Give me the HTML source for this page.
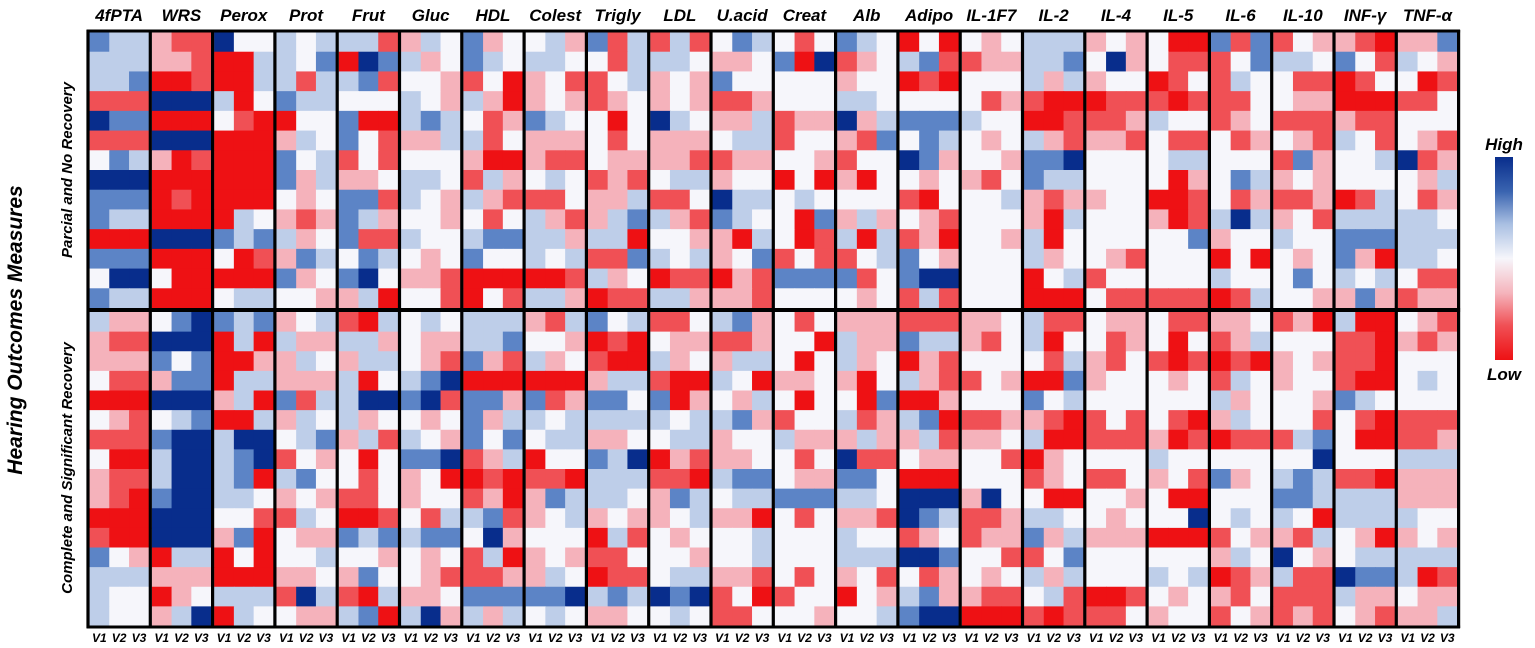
<!DOCTYPE html>
<html><head><meta charset="utf-8"><style>
html,body{margin:0;padding:0;background:#fff;}
svg{display:block;}
text{font-family:"Liberation Sans",sans-serif;font-weight:bold;font-style:italic;fill:#000;}
</style></head>
<body>
<svg id="chart" width="1535" height="648" viewBox="0 0 1535 648" xmlns="http://www.w3.org/2000/svg">
<defs>
<linearGradient id="cbar" x1="0" y1="0" x2="0" y2="1">
<stop offset="0" stop-color="#082d8c"/><stop offset="0.17" stop-color="#3a64b0"/><stop offset="0.33" stop-color="#a9bfe2"/><stop offset="0.5" stop-color="#f6f6fb"/><stop offset="0.67" stop-color="#f5b4bc"/><stop offset="0.83" stop-color="#f05055"/><stop offset="1" stop-color="#ee1114"/>
</linearGradient>
</defs>
<g id="cells"></g>
<g id="grid"></g>
<g id="labels"></g>
<text x="22" y="330" font-size="21" text-anchor="middle" transform="rotate(-90 22 330)">Hearing Outcomes Measures</text>
<text x="72" y="170" font-size="15" text-anchor="middle" transform="rotate(-90 72 170)">Parcial and No Recovery</text>
<text x="72" y="468" font-size="15" text-anchor="middle" transform="rotate(-90 72 468)">Complete and Significant Recovery</text>
<g>
<text x="1504" y="150" font-size="17" text-anchor="middle">High</text>
<rect x="1495" y="157" width="18" height="203" fill="url(#cbar)"/>
<text x="1504" y="380" font-size="17" text-anchor="middle">Low</text>
</g>
</svg>
<script>
const categories = ["4fPTA","WRS","Perox","Prot","Frut","Gluc","HDL","Colest","Trigly","LDL","U.acid","Creat","Alb","Adipo","IL-1F7","IL-2","IL-4","IL-5","IL-6","IL-10","INF-γ","TNF-α"];
const visits = ["V1","V2","V3"];
const topRows = 14;
const bottomRows = 16;
// values: -3 (low, red) .. 3 (high, blue); 30 rows (14 top + 16 bottom), V1..V3
const v_4fPTA=[[2,1,1],[1,1,1],[1,1,2],[-2,-2,-2],[3,2,2],[-2,-2,-2],[0,2,1],[3,3,3],[2,2,2],[2,1,1],[-3,-3,-3],[2,2,2],[0,3,3],[2,1,1],
[1,-1,-1],[-1,-2,-2],[-1,-1,-1],[0,-2,-2],[-3,-3,-3],[0,-1,-2],[-2,-2,-2],[0,-3,-3],[-1,-2,-2],[-1,-2,-3],[-3,-3,-3],[-2,-3,-3],[2,0,-1],[1,1,1],[1,0,0],[1,0,0]];
const v_WRS=[[-1,-2,-2],[-1,-1,-2],[-3,-3,-2],[3,3,3],[-3,-3,-3],[3,3,3],[-1,-3,-2],[-3,-3,-3],[-3,-2,-3],[-3,-3,-3],[3,3,3],[-3,-3,-3],[0,-3,-3],[-3,-3,-3],
[0,2,3],[3,3,3],[2,0,2],[-1,2,2],[3,3,3],[0,1,2],[2,3,3],[1,3,3],[1,3,3],[2,3,3],[3,3,3],[3,3,3],[-3,1,1],[-1,-1,-1],[-3,-1,0],[-1,1,3]];
const v_Perox=[[3,0,0],[-3,-3,1],[-3,-3,1],[1,-3,0],[0,-2,-3],[-3,-3,-3],[-3,-3,-3],[-3,-3,-3],[-3,-3,-3],[-3,1,0],[2,1,2],[0,-3,-2],[-3,-3,-3],[0,1,1],
[2,1,2],[-3,1,-3],[-3,-3,-1],[-3,1,1],[-1,1,-3],[-3,-3,1],[1,3,3],[1,2,3],[1,2,-3],[1,1,0],[0,0,-2],[-1,2,-3],[-3,0,-3],[-3,-3,-3],[1,1,1],[-3,1,0]];
const v_Prot=[[1,0,1],[1,0,2],[1,-2,1],[2,1,1],[-3,0,0],[-1,1,0],[2,0,1],[2,-1,1],[0,-1,0],[-1,-2,-1],[1,-1,0],[-1,2,1],[2,-1,0],[0,0,-1],
[-1,0,1],[1,-1,-1],[-1,1,0],[-1,-1,-1],[2,-2,1],[-1,1,0],[0,1,2],[-2,0,-1],[1,2,0],[-1,0,-1],[-2,1,0],[0,-1,-1],[0,0,1],[-1,-1,0],[-2,3,1],[0,-1,-1]];
const v_Frut=[[1,1,-2],[-3,3,2],[1,2,-2],[0,0,0],[2,-3,-3],[2,0,-2],[-2,0,-2],[-1,-1,0],[2,2,-2],[2,1,-1],[2,-2,-2],[0,2,1],[2,3,0],[-1,1,-3],
[-2,-3,1],[1,1,-1],[-1,1,1],[1,-3,0],[1,3,3],[1,-1,0],[-1,1,-2],[0,-3,0],[0,-2,0],[-2,-2,0],[-3,-3,-2],[2,1,2],[0,0,-1],[-1,2,0],[-2,-3,1],[1,2,-3]];
const v_Gluc=[[-1,1,0],[1,-1,0],[0,0,-1],[1,0,-1],[1,2,1],[-1,-1,1],[0,0,0],[1,1,0],[1,0,-1],[0,0,-1],[1,0,0],[0,-1,0],[-1,-1,-2],[0,0,-2],
[0,1,0],[0,-1,-1],[0,-1,-2],[1,2,3],[2,3,-2],[0,-1,0],[1,0,-1],[2,2,3],[-1,0,-3],[-1,0,0],[0,-2,1],[1,2,2],[0,-1,0],[0,-1,-2],[-1,-1,0],[1,3,-1]];
const v_HDL=[[2,-1,0],[2,1,0],[-2,0,-3],[1,-1,-3],[0,-2,-1],[1,-2,0],[-1,-3,-3],[-2,1,-1],[1,-1,-2],[0,-2,0],[1,2,2],[2,0,0],[-3,-3,-3],[-3,0,-2],
[1,1,1],[1,1,2],[2,-1,-2],[-3,-3,-3],[2,2,-1],[2,-1,1],[2,0,2],[-2,-1,1],[-3,-2,-3],[-2,-1,-3],[1,2,-2],[0,3,-1],[-2,1,-3],[-2,-2,-1],[2,2,2],[1,-1,1]];
const v_Colest=[[0,1,-1],[1,1,0],[-1,0,-2],[-1,0,-1],[2,1,0],[-1,-1,-1],[-1,-2,-2],[0,1,0],[-2,-2,0],[1,-1,-2],[1,1,-1],[1,0,1],[-3,-3,-2],[1,1,-1],
[-1,-2,1],[0,0,-1],[1,-1,0],[-3,-3,-3],[2,-2,-1],[1,0,1],[0,1,1],[-3,0,0],[-2,-2,-3],[-1,2,1],[-1,0,1],[0,0,0],[-1,0,-1],[-1,1,0],[2,2,3],[0,1,0]];
const v_Trigly=[[2,-2,1],[0,-2,1],[-2,0,1],[-2,-1,0],[0,-3,0],[0,-2,0],[0,-1,-1],[-2,-1,-2],[-1,-1,1],[-1,1,2],[1,1,-3],[-2,-2,2],[1,-1,0],[-3,-2,-2],
[2,0,1],[-3,-2,-3],[-2,-3,-3],[-1,1,1],[2,2,0],[1,1,1],[-1,-1,0],[2,1,3],[1,1,1],[1,1,0],[-1,0,-1],[-3,1,-2],[-2,-2,0],[-3,-2,-2],[1,2,1],[-1,-1,0]];
const v_LDL=[[-2,1,-2],[1,1,0],[-1,0,-1],[-1,0,-1],[3,1,0],[-1,-1,-1],[-1,-1,-2],[0,1,1],[-2,-2,0],[1,-1,-2],[0,0,-1],[1,0,1],[-3,-2,-2],[1,1,-1],
[-2,-2,0],[0,-1,-1],[1,-1,0],[-2,-3,-3],[2,-3,-1],[1,0,1],[0,1,1],[-3,-1,-2],[-2,-2,-3],[-1,2,1],[-1,0,1],[0,-1,0],[0,0,-1],[0,1,1],[3,2,3],[0,1,0]];
const v_Uacid=[[0,2,1],[-1,-1,0],[2,0,0],[-2,-2,-1],[-1,-1,1],[0,1,1],[-2,-1,-1],[-1,0,0],[3,1,1],[2,1,0],[-1,-3,1],[-1,0,2],[-3,-1,-2],[-1,-1,-2],
[1,2,-1],[-2,-2,-1],[-1,1,1],[1,0,-3],[0,-1,1],[1,2,-1],[-1,0,0],[-1,-1,0],[1,2,2],[0,1,1],[-1,-1,-3],[0,0,1],[0,0,1],[-1,-1,-2],[-2,0,-3],[-2,-2,0]];
const v_Creat=[[0,-2,0],[2,-3,3],[0,0,0],[0,0,0],[-2,-1,-1],[-2,0,0],[0,0,-1],[-3,0,-3],[0,1,0],[0,-3,2],[0,-3,-2],[-2,0,-2],[2,2,2],[0,0,0],
[0,-2,0],[0,0,-3],[0,-3,0],[-1,-1,0],[0,-3,0],[-2,0,0],[1,-1,-1],[0,-2,0],[0,-1,-1],[2,2,2],[0,-2,0],[0,0,0],[0,0,0],[0,-2,0],[-2,0,0],[0,0,-1]];
const v_Alb=[[2,1,0],[-2,-1,0],[-1,0,0],[1,1,0],[3,-1,1],[-1,-2,2],[-2,0,0],[-1,-3,0],[0,0,0],[-1,1,-1],[1,-3,1],[-2,0,1],[2,-2,0],[0,-1,0],
[-1,-1,-1],[1,-1,-1],[1,-1,0],[-1,-3,0],[0,-3,2],[1,-2,-1],[-1,1,-1],[3,-2,-2],[2,2,0],[1,1,0],[-1,-1,-2],[1,0,0],[1,1,1],[-1,0,-2],[-3,0,-1],[0,0,1]];
const v_Adipo=[[-3,0,-3],[1,2,-2],[-3,-2,-3],[0,0,0],[2,2,2],[0,2,1],[3,2,-1],[0,-1,0],[-2,-3,0],[0,-1,-2],[-2,-1,-3],[2,0,-1],[2,3,3],[-2,1,-2],
[-2,-2,-2],[2,1,1],[-3,-1,-2],[1,-1,-2],[-3,-3,-1],[1,2,-3],[-1,1,-2],[0,-1,-1],[-3,-3,-3],[3,3,3],[3,2,1],[-2,-1,0],[3,3,2],[0,-2,-1],[1,2,-1],[2,3,3]];
const v_IL1F7=[[0,-1,0],[-2,-1,-1],[0,0,0],[0,-2,-1],[1,0,0],[0,-1,0],[0,0,-1],[-1,-2,0],[0,0,1],[0,0,0],[0,0,-1],[0,0,0],[0,0,0],[0,0,0],
[-1,-1,0],[-1,-2,0],[0,0,0],[-2,0,-1],[0,0,0],[-2,-2,-1],[-1,-1,0],[0,0,-2],[0,0,0],[-1,3,0],[-2,-2,-1],[-2,-1,-1],[0,0,-2],[0,-1,0],[-1,-2,-2],[-3,-3,-3]];
const v_IL2=[[1,1,1],[1,1,2],[1,-1,1],[-2,-3,-3],[-3,-3,-2],[1,-1,-2],[2,2,3],[2,1,1],[-1,-2,-1],[-1,-3,1],[1,-3,0],[1,-1,0],[-3,0,1],[-3,-3,-3],
[1,-2,-2],[1,-3,0],[0,-2,1],[-3,-3,2],[2,0,1],[-1,-2,-3],[1,-3,-3],[-3,-1,0],[-2,-1,0],[0,-3,-3],[1,1,0],[2,-1,1],[-2,0,2],[1,-1,1],[0,1,-2],[-2,-3,-2]];
const v_IL4=[[-1,0,-1],[0,3,-1],[-1,0,0],[-3,-2,-2],[-2,-2,-1],[-1,-1,-2],[0,0,0],[0,0,0],[-1,0,0],[0,0,0],[0,0,0],[0,-1,-2],[-2,0,0],[0,-2,-2],
[0,-1,-1],[0,-2,-1],[-1,-2,0],[-1,0,0],[0,0,0],[-2,0,-2],[-2,-2,-2],[0,0,0],[-2,-2,0],[0,0,-1],[0,-1,0],[-1,-1,-1],[0,0,0],[0,0,0],[-3,-3,-2],[-2,-2,0]];
const v_IL5=[[0,-3,-3],[0,-2,-2],[-3,-2,0],[-2,-3,-2],[1,0,0],[0,-2,-2],[0,1,1],[0,-3,-1],[-3,-3,-2],[-1,-3,-2],[0,0,2],[0,0,0],[0,0,0],[-2,-2,-2],
[0,-2,-2],[0,-3,0],[-2,-3,-2],[0,-1,0],[0,0,0],[0,-2,-3],[-1,-3,-2],[1,0,0],[-1,0,-2],[0,-3,-3],[0,0,3],[-3,-3,-3],[0,0,0],[1,0,1],[0,-1,0],[-1,0,0]];
const v_IL6=[[2,-2,2],[-2,0,2],[-2,1,0],[-2,-2,0],[-2,-1,0],[0,-2,-1],[0,0,0],[0,2,1],[0,-2,-1],[1,3,1],[-1,0,0],[-3,0,-3],[1,0,0],[-3,-2,1],
[-1,-1,0],[-2,-1,1],[-3,-2,-3],[-2,1,0],[1,-1,0],[-1,1,0],[-3,-2,-2],[0,0,0],[2,-1,0],[0,0,0],[0,1,0],[-2,0,-1],[-1,1,0],[-3,-2,-1],[-1,-2,0],[-2,0,-1]];
const v_IL10=[[-2,0,-1],[1,1,0],[0,-2,-2],[0,-1,-1],[-2,-2,-2],[0,-1,-2],[-2,2,-1],[-1,0,-1],[-2,-2,-1],[-1,0,-2],[1,0,0],[0,-1,0],[0,2,0],[0,0,-1],
[-2,-1,-3],[0,0,0],[-1,0,-1],[-1,0,0],[0,0,-1],[0,0,-2],[-2,1,2],[0,0,3],[1,2,1],[2,2,1],[1,0,-3],[-1,-2,1],[3,0,-1],[1,-2,-2],[-2,-2,-2],[-2,-1,-2]];
const v_INFg=[[-1,-2,-3],[2,0,-2],[-3,-2,0],[-3,-3,-3],[-1,-2,-2],[1,0,-2],[0,0,1],[0,0,0],[-3,-2,1],[1,1,1],[2,2,2],[2,-1,-3],[1,0,1],[-1,2,-1],
[1,-3,-3],[-2,-2,-3],[-2,-2,-3],[-2,-3,-3],[2,1,0],[0,-2,-3],[0,-3,-3],[0,0,0],[-2,-2,-3],[1,1,1],[1,1,1],[0,-1,-3],[0,1,1],[3,2,2],[1,-1,-1],[0,-1,-2]];
const v_TNFa=[[-1,-1,2],[1,0,-1],[0,-3,-2],[-2,-2,0],[0,0,0],[0,-1,-2],[3,-2,-1],[0,-1,1],[0,-2,-1],[1,1,0],[1,1,1],[1,1,0],[0,-2,-2],[-2,-1,-1],
[0,-1,-2],[-1,-2,-1],[0,0,0],[0,1,0],[0,0,0],[-2,-2,-2],[-2,-2,-1],[1,1,1],[-1,-1,-1],[-1,-1,-1],[1,0,0],[-1,0,-1],[1,1,1],[1,-3,-2],[0,-1,-1],[-1,-1,1]];
const seriesList=[v_4fPTA,v_WRS,v_Perox,v_Prot,v_Frut,v_Gluc,v_HDL,v_Colest,v_Trigly,v_LDL,v_Uacid,v_Creat,v_Alb,v_Adipo,v_IL1F7,v_IL2,v_IL4,v_IL5,v_IL6,v_IL10,v_INFg,v_TNFa];

const NS="http://www.w3.org/2000/svg";
const X0=88, GW=62.3, SEP=3, TOP0=32, TOP1=308, BOT0=312, BOT1=626;
const stops=[[238,17,20],[240,80,85],[245,178,187],[246,246,251],[190,206,233],[92,132,198],[8,45,140]];
function color(v){
  let t=Math.max(-3,Math.min(3,v))+3; let i=Math.min(5,Math.floor(t)); let f=t-i;
  const a=stops[i], b=stops[i+1];
  return `rgb(${Math.round(a[0]+(b[0]-a[0])*f)},${Math.round(a[1]+(b[1]-a[1])*f)},${Math.round(a[2]+(b[2]-a[2])*f)})`;
}
function xScale(g,c){ const cw=(GW-SEP)/3; return X0+g*GW+SEP/2+c*cw; }
function yScale(r){
  if(r<topRows){ const h=(TOP1-TOP0)/topRows; return [TOP0+r*h,h]; }
  const h=(BOT1-BOT0)/bottomRows; return [BOT0+(r-topRows)*h,h];
}
const cells=document.getElementById('cells');
const cw=(GW-SEP)/3;
seriesList.forEach((ser,g)=>{
  ser.forEach((row,r)=>{
    row.forEach((v,c)=>{
      const [y,h]=yScale(r);
      const rect=document.createElementNS(NS,'rect');
      rect.setAttribute('x',xScale(g,c)); rect.setAttribute('y',y);
      rect.setAttribute('width',cw+0.6); rect.setAttribute('height',h+0.6);
      rect.setAttribute('fill',color(v));
      
      
      cells.appendChild(rect);
    });
  });
});
const grid=document.getElementById('grid');
function line(x1,y1,x2,y2,w,name){
  const l=document.createElementNS(NS,'line');
  l.setAttribute('x1',x1);l.setAttribute('y1',y1);l.setAttribute('x2',x2);l.setAttribute('y2',y2);
  l.setAttribute('stroke','#000');l.setAttribute('stroke-width',w);
  
  
  grid.appendChild(l);
}
for(let g=0;g<=categories.length;g++){ const x=X0+g*GW; line(x,TOP0-2,x,BOT1+2,3.2,'group-separator'); }
line(X0-1.5,TOP0-1,X0+categories.length*GW+1.5,TOP0-1,3,'frame-top');
line(X0-1.5,(TOP1+BOT0)/2,X0+categories.length*GW+1.5,(TOP1+BOT0)/2,4,'block-separator');
line(X0-1.5,BOT1+1,X0+categories.length*GW+1.5,BOT1+1,3,'frame-bottom');
const labels=document.getElementById('labels');
categories.forEach((name,g)=>{
  const t=document.createElementNS(NS,'text');
  t.setAttribute('x',X0+g*GW+GW/2); t.setAttribute('y',21);
  t.setAttribute('font-size','17'); t.setAttribute('text-anchor','middle');
  t.textContent=name;
  
  
  labels.appendChild(t);
  visits.forEach((vn,c)=>{
    const s=document.createElementNS(NS,'text');
    s.setAttribute('x',xScale(g,c)+cw/2); s.setAttribute('y',642);
    s.setAttribute('font-size','12'); s.setAttribute('text-anchor','middle');
    s.textContent=vn;
    
    
    labels.appendChild(s);
  });
});
</script>
</body></html>
